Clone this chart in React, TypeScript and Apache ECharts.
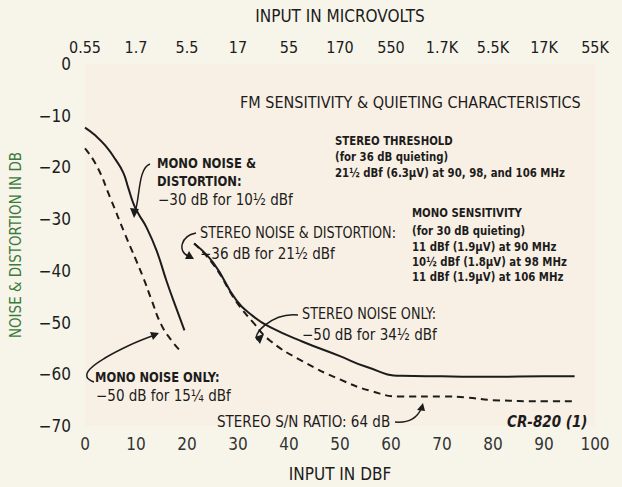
import React, { useEffect, useRef } from "react";
import * as echarts from "echarts";

// ---- data ----
const dbfTicks = [0, 10, 20, 30, 40, 50, 60, 70, 80, 90, 100];
const microvoltLabels = ["0.55", "1.7", "5.5", "17", "55", "170", "550", "1.7K", "5.5K", "17K", "55K"];

const monoNoiseDistortion = [
  [0, -12.3], [2, -13.8], [4, -15.8], [6, -18.5], [7.5, -21], [8.5, -24], [9.5, -27],
  [10.5, -29], [12, -31.5], [14, -36], [16, -42], [18, -47.5], [19.5, -51.5],
];
const monoNoiseOnly = [
  [0, -16.3], [2.3, -19.7], [5, -26], [7.8, -32.8], [11.3, -41], [13, -45.5],
  [15, -50.5], [17, -53.5], [19, -55.8],
];
const stereoNoiseDistortion = [
  [21.4, -34.7], [25.2, -38.5], [29.7, -45.7], [33, -48.8], [36.3, -50.9], [42.7, -53.7],
  [50, -56.5], [55, -58.5], [62, -60.3], [70, -60.4], [80, -60.5], [90, -60.4], [96, -60.4],
];
const stereoNoiseOnly = [
  [21.4, -34.7], [25.2, -38.8], [29.7, -46], [33, -50], [36.3, -53.5], [42.7, -57.5],
  [50, -61], [56, -63.2], [62, -64.3], [70, -64.3], [75, -64.5], [80, -65], [90, -65.2], [96, -65.2],
];

const FONT = "'Liberation Sans Narrow', 'DejaVu Sans Condensed', 'Roboto', sans-serif";
const INK = "#1c1c1c";
const GREEN = "#3c7a3c";

function txt(text: string, x: number, y: number, size = 14, weight = "normal", sx = 1, style = "normal") {
  return {
    type: "text",
    x,
    y,
    z: 10,
    scaleX: sx,
    style: {
      text,
      fill: INK,
      font: `${style} ${weight} ${size}px ${FONT}`,
      verticalAlign: "middle",
      align: "left",
    },
  };
}

function arrowHead(points: number[][]) {
  return { type: "polygon", z: 10, shape: { points }, style: { fill: INK } };
}

function curve(x1: number, y1: number, cpx1: number, cpy1: number, cpx2: number, cpy2: number, x2: number, y2: number) {
  return {
    type: "bezierCurve",
    z: 10,
    shape: { x1, y1, cpx1, cpy1, cpx2, cpy2, x2, y2 },
    style: { stroke: INK, lineWidth: 1.5, fill: "none" },
  };
}

export default function App() {
  const ref = useRef<HTMLDivElement>(null);
  useEffect(() => {
    document.body.style.margin = "0";
    document.body.style.background = "#f7f5ea";
    const chart = echarts.init(ref.current!, undefined, { renderer: "svg" });
    const lineStyleBase = { color: INK, width: 2 };
    const B = 0.87; // condensing for the bold info blocks
    chart.setOption({
      animation: false,
      backgroundColor: "#f7f5ea",
      textStyle: { fontFamily: FONT },
      grid: { left: 80, right: 27, top: 64, bottom: 54, show: true, backgroundColor: "#f9f0e5", borderWidth: 0 },
      xAxis: [
        {
          type: "value",
          min: 0,
          max: 100,
          interval: 10,
          position: "bottom",
          name: "INPUT IN DBF",
          nameLocation: "middle",
          nameGap: 39,
          nameTextStyle: { color: INK, fontSize: 17, fontFamily: FONT },
          axisLine: { show: false },
          axisTick: { show: false },
          splitLine: { show: false },
          axisLabel: { color: "#333", fontSize: 17, margin: 9, fontFamily: FONT, formatter: (v: number) => String(v) },
        },
        {
          type: "value",
          min: 0,
          max: 100,
          interval: 10,
          position: "top",
          name: "INPUT IN MICROVOLTS",
          nameLocation: "middle",
          nameGap: 40,
          nameTextStyle: { color: INK, fontSize: 17, fontFamily: FONT },
          axisLine: { show: false },
          axisTick: { show: false },
          splitLine: { show: false },
          axisLabel: {
            color: INK,
            fontSize: 16,
            margin: 9,
            fontFamily: FONT,
            formatter: (v: number) => microvoltLabels[dbfTicks.indexOf(Math.round(v))] ?? "",
          },
        },
      ],
      yAxis: {
        type: "value",
        min: -70,
        max: 0,
        interval: 10,
        name: "NOISE & DISTORTION IN DB",
        nameLocation: "middle",
        nameGap: 62,
        nameTextStyle: { color: GREEN, fontSize: 15, fontFamily: FONT },
        axisLine: { show: false },
        axisTick: { show: false },
        splitLine: { show: false },
        axisLabel: {
          color: INK,
          fontSize: 17,
          margin: 14,
          fontFamily: FONT,
          formatter: (v: number) => (v < 0 ? "\u2212" + Math.abs(v) : String(v)),
        },
      },
      series: [
        { type: "line", data: monoNoiseDistortion, smooth: true, showSymbol: false, lineStyle: { ...lineStyleBase } },
        { type: "line", data: monoNoiseOnly, smooth: true, showSymbol: false, lineStyle: { ...lineStyleBase, type: [7, 5] } },
        { type: "line", data: stereoNoiseDistortion, smooth: true, showSymbol: false, lineStyle: { ...lineStyleBase } },
        { type: "line", data: stereoNoiseOnly, smooth: true, showSymbol: false, lineStyle: { ...lineStyleBase, type: [7, 5] } },
      ],
      graphic: [
        txt("FM SENSITIVITY & QUIETING CHARACTERISTICS", 240, 102, 16),
        txt("STEREO THRESHOLD", 335, 141, 13, "bold", B),
        txt("(for 36 dB quieting)", 335, 157, 13, "bold", B),
        txt("21\u00bd dBf (6.3\u00b5V) at 90, 98, and 106 MHz", 335, 173, 13, "bold", B),
        txt("MONO NOISE &", 157, 163, 14, "bold", 0.92),
        txt("DISTORTION:", 157, 181, 14, "bold", 0.92),
        txt("\u221230 dB for 10\u00bd dBf", 158, 200, 15),
        txt("STEREO NOISE & DISTORTION:", 200, 232, 15, "normal", 0.95),
        txt("\u221236 dB for 21\u00bd dBf", 200, 254, 15),
        txt("MONO SENSITIVITY", 412, 213, 13, "bold", B),
        txt("(for 30 dB quieting)", 412, 231, 13, "bold", B),
        txt("11 dBf (1.9\u00b5V) at 90 MHz", 412, 247, 13, "bold", B),
        txt("10\u00bd dBf (1.8\u00b5V) at 98 MHz", 412, 262, 13, "bold", B),
        txt("11 dBf (1.9\u00b5V) at 106 MHz", 412, 277, 13, "bold", B),
        txt("STEREO NOISE ONLY:", 302, 313, 15, "normal", 0.95),
        txt("\u221250 dB for 34\u00bd dBf", 302, 335, 15),
        txt("MONO NOISE ONLY:", 95, 377, 14, "bold", 0.91),
        txt("\u221250 dB for 15\u00bc dBf", 96, 396, 15),
        txt("STEREO S/N RATIO: 64 dB", 217, 422, 15),
        txt("CR-820 (1)", 507, 422, 15, "bold", 1, "italic"),
        // arrows
        curve(150, 164, 138, 168, 140, 198, 135, 212),
        arrowHead([[134, 218], [130, 208], [139, 209]]),
        curve(196, 233, 180, 236, 178, 252, 188, 256),
        arrowHead([[194, 259], [185, 259], [189, 251]]),
        curve(298, 315, 272, 312, 250, 336, 258, 340),
        arrowHead([[264, 334], [255, 337], [260, 344]]),
        {
          type: "polyline",
          z: 10,
          shape: { points: [[94, 382], [87, 377], [90, 369], [105, 358], [130, 345], [152, 336]], smooth: 0.4 },
          style: { stroke: INK, lineWidth: 1.5, fill: "none" },
        },
        arrowHead([[159, 333], [150, 332], [153, 340]]),
        curve(395, 422, 408, 423, 417, 418, 421, 409),
        arrowHead([[423, 403], [417, 410], [425, 411]]),
      ],
    });
    return () => chart.dispose();
  }, []);
  return <div ref={ref} style={{ position: "fixed", left: 0, top: 0, width: 622, height: 487 }} />;
}
